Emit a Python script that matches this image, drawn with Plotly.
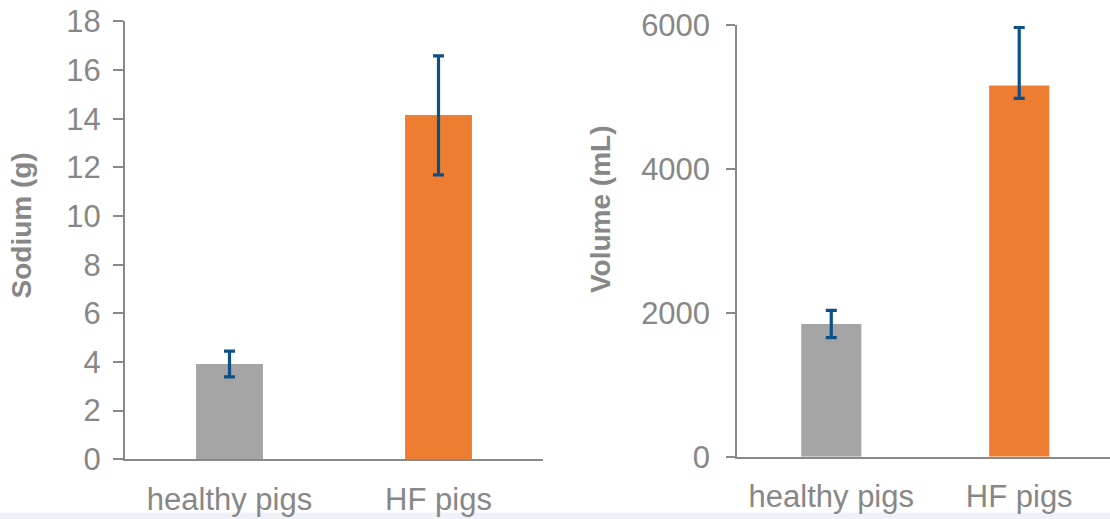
import plotly.graph_objects as go

# ---- data ----
categories = ["healthy pigs", "HF pigs"]
sodium_g = [3.92, 14.15]
sodium_err_plus = [0.53, 2.43]
sodium_err_minus = [0.53, 2.46]
volume_ml = [1845, 5160]
volume_err_plus = [190, 805]
volume_err_minus = [190, 180]
bar_colors = ["#a5a5a5", "#ed7d31"]
sodium_ticks = list(range(0, 19, 2))
volume_ticks = [0, 2000, 4000, 6000]

W, H = 1110, 519
FONT = "Liberation Sans, Arial, sans-serif"
GRAY_TXT = "#878787"
AXIS = "#898989"
ERR = "#0c5088"


def px(x):
    return x / W


def py(y):
    return 1 - y / H


fig = go.Figure()

fig.add_trace(go.Bar(
    x=categories, y=sodium_g, marker=dict(color=bar_colors, line=dict(width=0)),
    width=0.32, xaxis="x", yaxis="y", showlegend=False,
    error_y=dict(type="data", symmetric=False, array=sodium_err_plus,
                 arrayminus=sodium_err_minus, color=ERR, thickness=3.2, width=5.5),
))
fig.add_trace(go.Bar(
    x=categories, y=volume_ml, marker=dict(color=bar_colors, line=dict(width=0)),
    width=0.32, xaxis="x2", yaxis="y2", showlegend=False,
    error_y=dict(type="data", symmetric=False, array=volume_err_plus,
                 arrayminus=volume_err_minus, color=ERR, thickness=3.2, width=5.5),
))

axis_common = dict(showline=True, linecolor=AXIS, linewidth=2, showgrid=False,
                   zeroline=False, automargin=False, ticklabeloverflow="allow",
                   tickfont=dict(family=FONT, size=31, color=GRAY_TXT))

fig.update_layout(
    template="none",
    width=W, height=H,
    margin=dict(l=0, r=0, t=0, b=0, pad=0),
    paper_bgcolor="white", plot_bgcolor="white",
    bargap=0.68,
    xaxis=dict(domain=[px(125), px(543)], anchor="y", range=[-0.5, 1.5],
               ticks="", ticklabelstandoff=11, **axis_common),
    yaxis=dict(domain=[py(459.3), py(21.4)], anchor="x", range=[0, 18],
               tickvals=sodium_ticks, ticks="outside", ticklen=10, tickwidth=2,
               tickcolor=AXIS, ticklabelstandoff=6, **axis_common),
    xaxis2=dict(domain=[px(737.3), 1.0], anchor="y2", range=[-0.5, 1.483],
                ticks="", ticklabelstandoff=11, **axis_common),
    yaxis2=dict(domain=[py(456.7), py(25)], anchor="x2", range=[0, 6000],
                tickvals=volume_ticks, ticks="outside", ticklen=9, tickwidth=2,
                tickcolor=AXIS, ticklabelstandoff=10, **axis_common),
    annotations=[
        dict(text="<b>Sodium (g)</b>", textangle=-90, xref="paper", yref="paper",
             x=px(21.5), y=py(226), xanchor="center", yanchor="middle",
             showarrow=False, font=dict(family=FONT, size=28, color=GRAY_TXT)),
        dict(text="<b>Volume (mL)</b>", textangle=-90, xref="paper", yref="paper",
             x=px(600), y=py(210), xanchor="center", yanchor="middle",
             showarrow=False, font=dict(family=FONT, size=28, color=GRAY_TXT)),
    ],
    shapes=[dict(type="rect", xref="paper", yref="paper", x0=0, x1=1,
                 y0=0, y1=6.5 / H, fillcolor="#eef2f8", line=dict(width=0),
                 layer="below")],
)

fig.write_html(
    "out.html",
    config={"displayModeBar": False, "staticPlot": True},
    post_script="document.body.style.margin='0';document.body.style.overflow='hidden';",
)
